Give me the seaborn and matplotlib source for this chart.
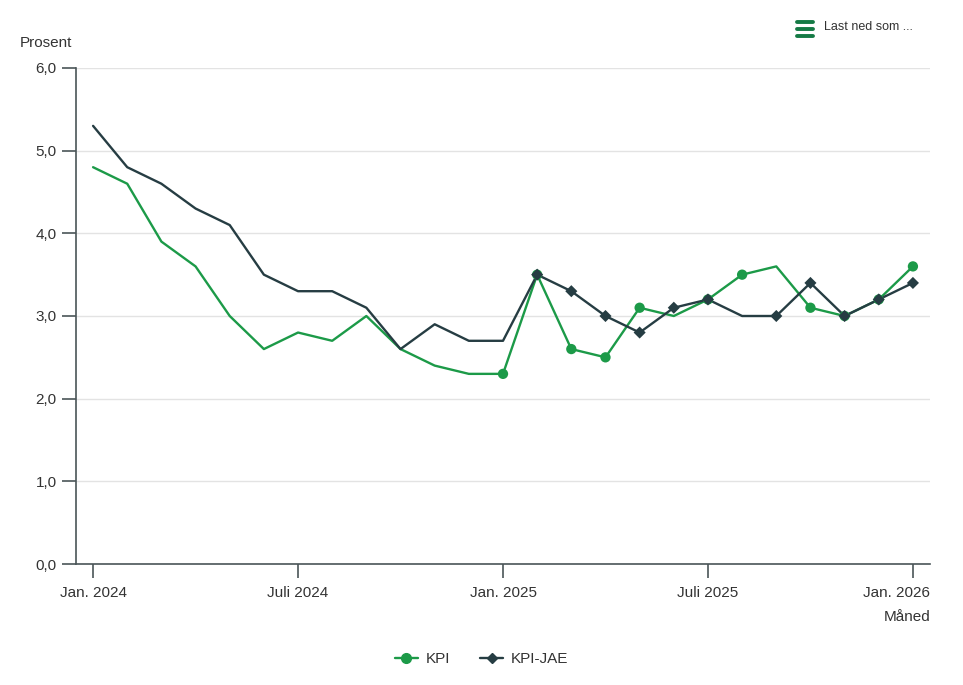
import pandas as pd
import numpy as np
import matplotlib.pyplot as plt
import matplotlib.transforms as mtransforms
import seaborn as sns
from matplotlib.lines import Line2D

# Data, monthly Jan 2024 - Jan 2026
months = pd.date_range('2024-01-01', '2026-01-01', freq='MS')
kpi = [4.8, 4.6, 3.9, 3.6, 3.0, 2.6, 2.8, 2.7, 3.0, 2.6, 2.4, 2.3,
       2.3, 3.5, 2.6, 2.5, 3.1, 3.0, 3.2, 3.5, 3.6, 3.1, 3.0, 3.2, 3.6]
kpi_jae = [5.3, 4.8, 4.6, 4.3, 4.1, 3.5, 3.3, 3.3, 3.1, 2.6, 2.9, 2.7,
           2.7, 3.5, 3.3, 3.0, 2.8, 3.1, 3.2, 3.0, 3.0, 3.4, 3.0, 3.2, 3.4]
kpi_marker = [0] * 12 + [1, 1, 1, 1, 1, 0, 1, 1, 0, 1, 1, 1, 1]
jae_marker = [0] * 13 + [1, 1, 1, 1, 1, 1, 0, 1, 1, 1, 1, 1]
tick_pos = [0, 6, 12, 18, 24]
tick_labels = ['Jan. 2024', 'Juli 2024', 'Jan. 2025', 'Juli 2025', 'Jan. 2026']
y_ticks = [0, 1, 2, 3, 4, 5, 6]

green = '#1c9a48'
dark = '#263d43'

df = pd.DataFrame({'t': np.arange(len(months)), 'KPI': kpi, 'KPI-JAE': kpi_jae,
                   'mk': kpi_marker, 'mj': jae_marker})

sns.set_style('white')
plt.rcParams['font.family'] = ['Liberation Sans', 'DejaVu Sans']

fig = plt.figure(figsize=(9.63, 6.85), dpi=100)
ax = fig.add_axes([76 / 963, 1 - 564 / 685, (930 - 76) / 963, (564 - 68) / 685])

sns.lineplot(data=df, x='t', y='KPI', color=green, linewidth=1.7, ax=ax, zorder=3)
sns.lineplot(data=df, x='t', y='KPI-JAE', color=dark, linewidth=1.7, ax=ax, zorder=4)
sns.scatterplot(data=df[df['mk'] == 1], x='t', y='KPI', color=green, s=55,
                marker='o', edgecolor='none', ax=ax, zorder=5)
sns.scatterplot(data=df[df['mj'] == 1], x='t', y='KPI-JAE', color=dark, s=38,
                marker='D', edgecolor='none', ax=ax, zorder=6)

ax.set_xlim(-0.5, 24.5)
ax.set_ylim(0, 6)
ax.set_yticks(y_ticks)
ax.set_yticklabels([f'{v:.1f}'.replace('.', ',') for v in y_ticks])
ax.set_xticks(tick_pos)
ax.set_xticklabels(tick_labels)
ax.set_xlabel('')
ax.set_ylabel('')
ax.grid(axis='y', color='#e3e3e3', linewidth=1)
ax.set_axisbelow(True)

for s in ['top', 'right']:
    ax.spines[s].set_visible(False)
for s in ['left', 'bottom']:
    ax.spines[s].set_color('#4a5558')
    ax.spines[s].set_linewidth(1.2)

ax.tick_params(axis='y', direction='out', length=10, width=1.2, color='#4a5558',
               labelsize=11, labelcolor='#333333', pad=4, left=True)
ax.tick_params(axis='x', direction='out', length=10, width=1.2, color='#4a5558',
               labelsize=11, labelcolor='#333333', pad=6, bottom=True)

# last x label kept inside the plot edge
last = ax.get_xticklabels()[-1]
last.set_horizontalalignment('right')
last.set_transform(last.get_transform() + mtransforms.ScaledTranslation(0.17, 0, fig.dpi_scale_trans))

fig.text(20 / 963, 1 - 43 / 685, 'Prosent', fontsize=11, color='#333333', va='center')
fig.text(930 / 963, 1 - 617 / 685, 'Måned', fontsize=11, color='#333333',
         va='center', ha='right')

handles = [Line2D([0], [0], color=green, lw=1.7, marker='o', markersize=7),
           Line2D([0], [0], color=dark, lw=1.7, marker='D', markersize=5)]
fig.legend(handles, ['KPI', 'KPI-JAE'], loc='center', bbox_to_anchor=(0.5, 1 - 659 / 685),
           ncol=2, frameon=False, fontsize=11, handlelength=1.5, columnspacing=2,
           handletextpad=0.5, labelcolor='#333333')

# menu button
for dy in [-7, 0, 7]:
    fig.add_artist(Line2D([797 / 963, 813 / 963], [1 - (29 + dy) / 685] * 2,
                          color='#157a45', lw=2.8, solid_capstyle='round'))
fig.text(824 / 963, 1 - 27 / 685, 'Last ned som ...', fontsize=9, color='#333333', va='center')

fig.savefig('out.png', dpi=100)
plt.close()
